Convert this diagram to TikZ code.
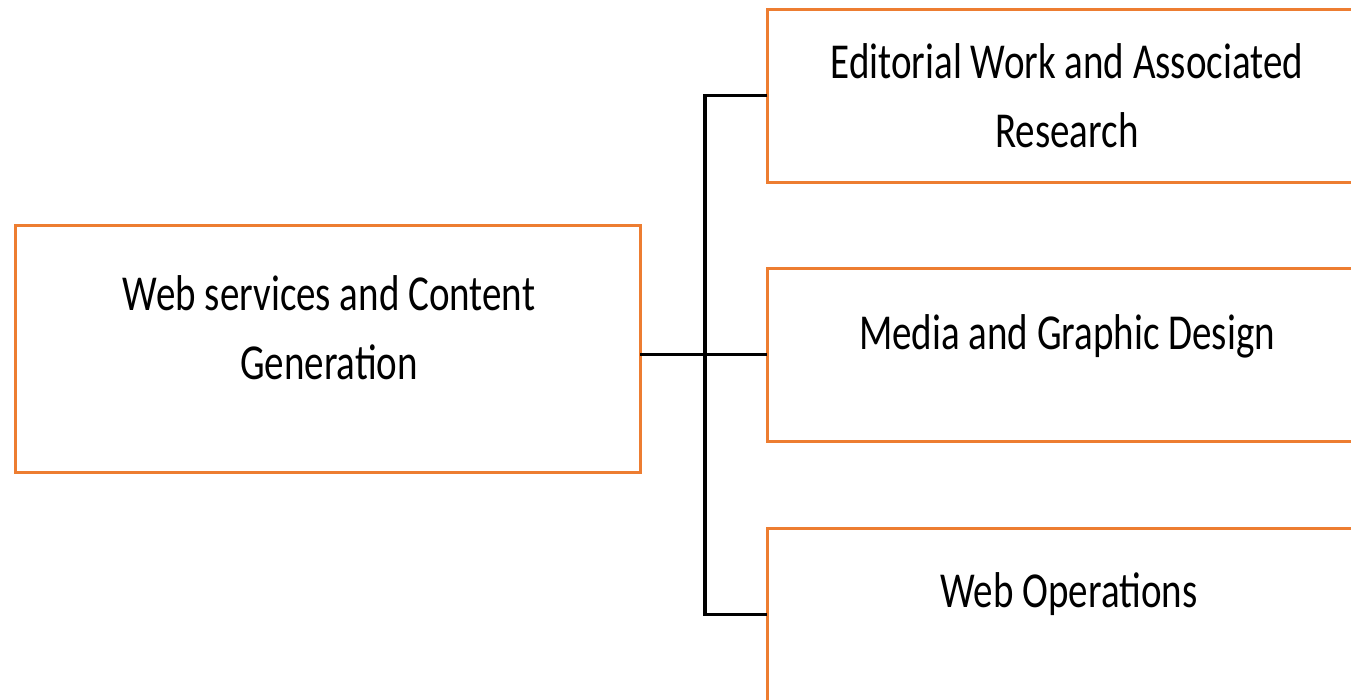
\documentclass[tikz,border=0pt]{standalone}
\usepackage{fontspec}
\setmainfont{Carlito}
\definecolor{boxorange}{HTML}{ED7D31}
\tikzset{
  box/.style={draw=boxorange, line width=3pt, rectangle, inner sep=0pt, outer sep=0pt},
  label/.style={align=center, inner sep=0pt, yscale=1.29, font=\fontsize{39}{53.5}\selectfont},
  conn/.style={draw=black, line width=3.3pt}
}
\begin{document}
\begin{tikzpicture}[x=1pt, y=-1pt]
\useasboundingbox (0,0) rectangle (1351,699);
\node[box, minimum width=625pt, minimum height=247pt] (src) at (327.5,348.5) {};
\node[box, minimum width=600pt, minimum height=173pt] (top) at (1067,95.5) {};
\node[box, minimum width=600pt, minimum height=173pt] (mid) at (1067,354.5) {};
\node[box, minimum width=600pt, minimum height=173pt] (bot) at (1067,614.5) {};
\node[label] (srct) at (329,328) {Web services and Content\\Generation};
\node[label] (topt) at (1067,96) {Editorial Work and Associated\\Research};
\node[label] (midt) at (1067,336) {Media and Graphic Design};
\node[label] (bott) at (1069,594) {Web Operations};
\coordinate (jt) at (705,95.5);
\coordinate (jb) at (705,614.5);
\draw[conn] (top.west) -- (jt) -- (jb) -- (bot.west);
\draw[conn] (src.east |- mid.west) -- (mid.west);
\end{tikzpicture}
\end{document}
